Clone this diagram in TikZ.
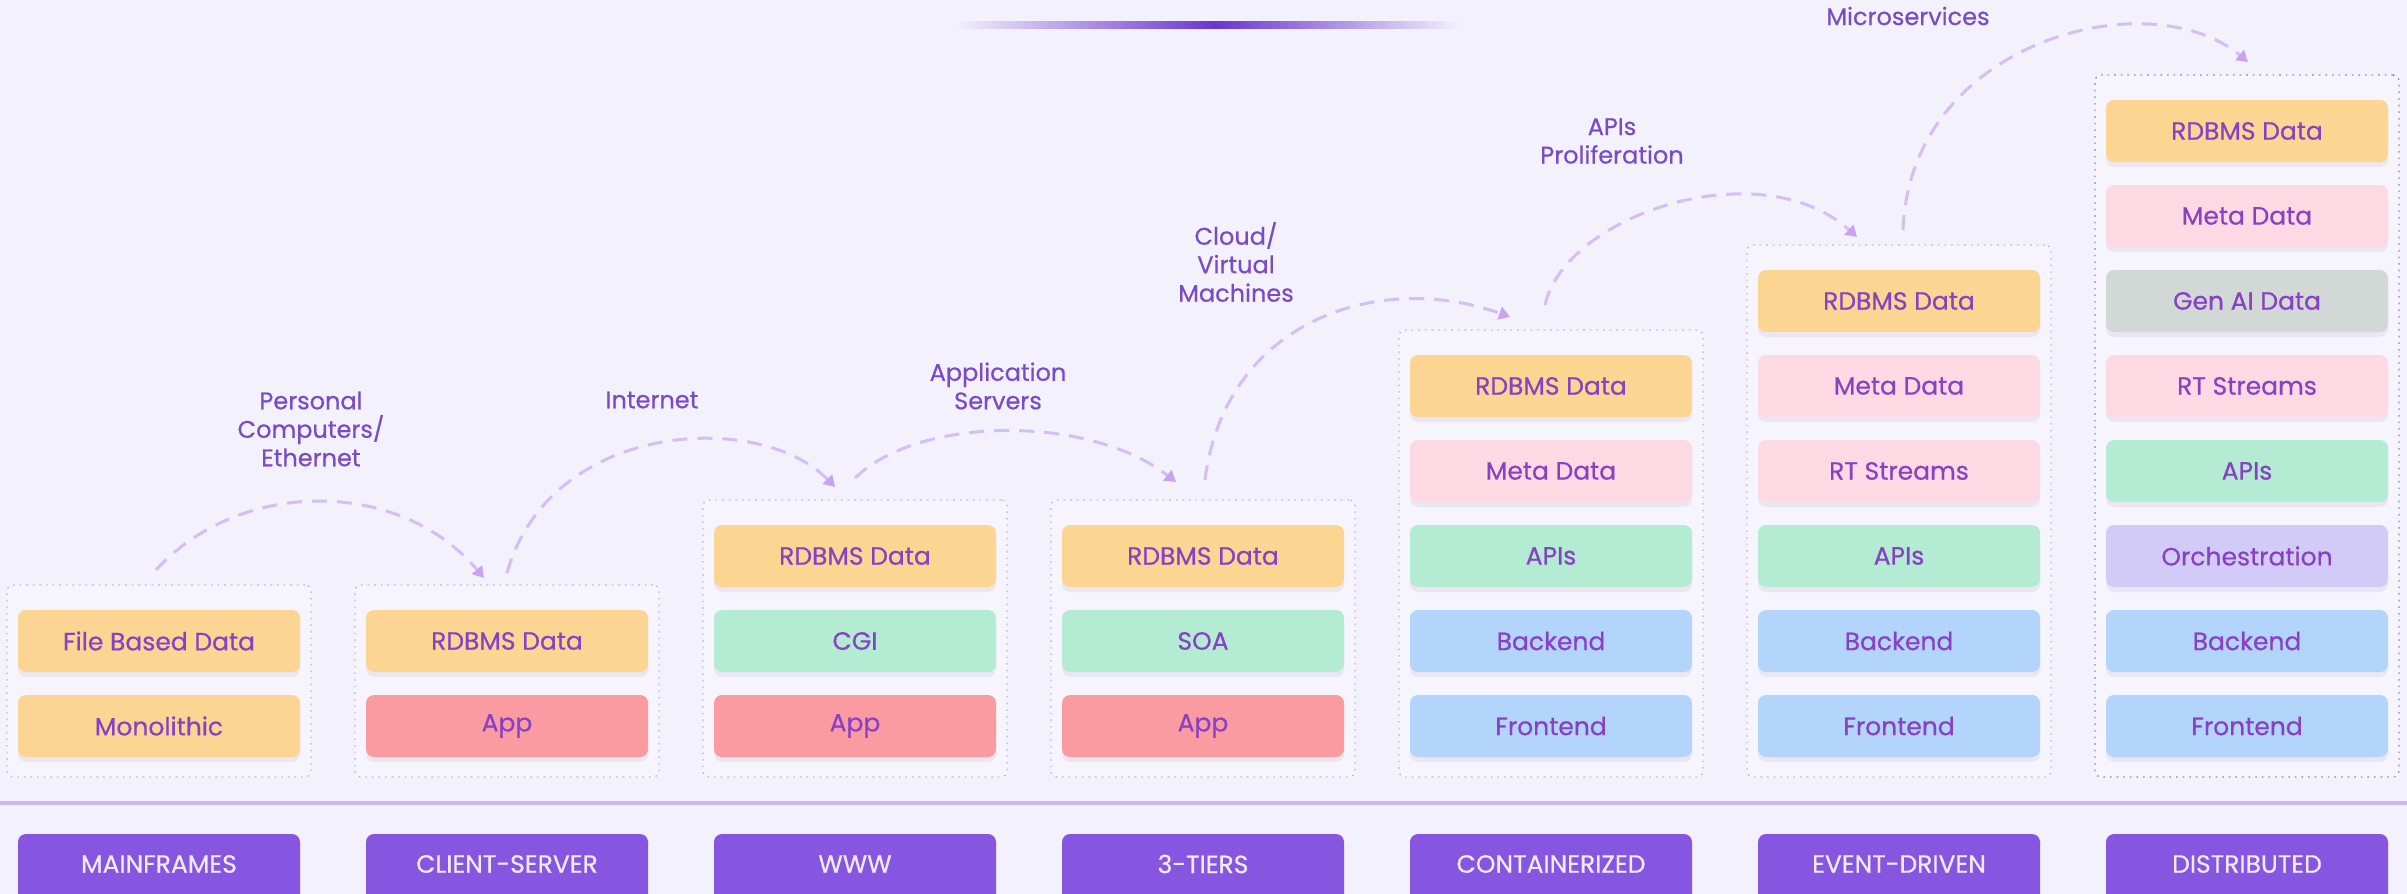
\documentclass[tikz,border=0pt]{standalone}
\usepackage{fontspec}
\setmainfont{Poppins}[FakeBold=0.5]
\usetikzlibrary{arrows.meta,shadows}
\definecolor{bg}{HTML}{F3F1FC}
\definecolor{contfill}{HTML}{F6F5FD}
\definecolor{contc}{HTML}{BDBBCB}
\definecolor{contd}{HTML}{8E8C9C}
\definecolor{txt}{HTML}{8840C4}
\definecolor{lbl}{HTML}{7A4BC8}
\definecolor{cor}{HTML}{FDD593}
\definecolor{cred}{HTML}{F99BA0}
\definecolor{cpk}{HTML}{FDD9E4}
\definecolor{cgr}{HTML}{B3EBD3}
\definecolor{cbl}{HTML}{B3D4FB}
\definecolor{cgy}{HTML}{D2D8D5}
\definecolor{clv}{HTML}{D3CBF7}
\definecolor{btn}{HTML}{8656E0}
\definecolor{btntxt}{HTML}{F1EAFF}
\definecolor{sepc}{HTML}{CDB5F7}
\definecolor{arrc}{HTML}{D7BDF5}
\definecolor{arrtip}{HTML}{C9A2F2}
\definecolor{grad}{HTML}{6A35CF}
\begin{document}
\begin{tikzpicture}[x=1pt,y=-1pt,
  blk/.style={rounded corners=8pt, minimum width=282pt, minimum height=62pt, inner sep=0pt,
    font=\fontsize{25}{29}\selectfont, text=txt,
    drop shadow={shadow xshift=0pt,shadow yshift=-5pt,opacity=0.06,fill=violet!60!black}},
  ora/.style={blk, fill=cor},
  red/.style={blk, fill=cred},
  pnk/.style={blk, fill=cpk},
  grn/.style={blk, fill=cgr},
  blu/.style={blk, fill=cbl},
  gry/.style={blk, fill=cgy},
  lav/.style={blk, fill=clv},
  cont/.style={draw=contc, dash pattern=on 1.6pt off 5pt, line width=1.3pt, rounded corners=6pt,
    fill=contfill, minimum width=304pt, inner sep=0pt},
  btnbox/.style={fill=btn, rounded corners=8pt, minimum width=282pt, minimum height=76pt, inner sep=0pt},
  btnlbl/.style={text=btntxt, font=\fontsize{25}{29}\selectfont, inner sep=0pt},
  lab/.style={text=lbl, align=center, font=\fontsize{24}{28.5}\selectfont, inner sep=0pt},
  arr/.style={draw=arrc, line width=3pt, dash pattern=on 15pt off 10pt,
    -{Triangle[width=13pt,length=11pt,fill=arrtip,color=arrtip]}}
]
\useasboundingbox (0,0) rectangle (2407,894);
\fill[bg] (0,0) rectangle (2407,894);
% top gradient line
\shade[left color=bg, right color=grad] (955,21) rectangle (1215,28);
\shade[left color=grad, right color=bg] (1215,21) rectangle (1460,28);
% separator
\fill[sepc] (0,801) rectangle (2407,805);

% containers
\node[cont, minimum height=192pt] (k0) at (159,681) {};
\node[cont, minimum height=192pt] (k1) at (507,681) {};
\node[cont, minimum height=277pt] (k2) at (855,638.5) {};
\node[cont, minimum height=277pt] (k3) at (1203,638.5) {};
\node[cont, minimum height=447pt] (k4) at (1551,553.5) {};
\node[cont, minimum height=532pt] (k5) at (1899,511) {};
\node[cont, draw=contd, minimum height=702pt] (k6) at (2247,426) {};

% column 0: mainframes
\node[ora] (c0r0) at (159,726) {Monolithic};
\node[ora] (c0r1) at (159,641) {File Based Data};
% column 1: client-server
\node[red] (c1r0) at (507,726) {App};
\node[ora] (c1r1) at (507,641) {RDBMS Data};
% column 2: www
\node[red] (c2r0) at (855,726) {App};
\node[grn] (c2r1) at (855,641) {CGI};
\node[ora] (c2r2) at (855,556) {RDBMS Data};
% column 3: 3-tiers
\node[red] (c3r0) at (1203,726) {App};
\node[grn] (c3r1) at (1203,641) {SOA};
\node[ora] (c3r2) at (1203,556) {RDBMS Data};
% column 4: containerized
\node[blu] (c4r0) at (1551,726) {Frontend};
\node[blu] (c4r1) at (1551,641) {Backend};
\node[grn] (c4r2) at (1551,556) {APIs};
\node[pnk] (c4r3) at (1551,471) {Meta Data};
\node[ora] (c4r4) at (1551,386) {RDBMS Data};
% column 5: event-driven
\node[blu] (c5r0) at (1899,726) {Frontend};
\node[blu] (c5r1) at (1899,641) {Backend};
\node[grn] (c5r2) at (1899,556) {APIs};
\node[pnk] (c5r3) at (1899,471) {RT Streams};
\node[pnk] (c5r4) at (1899,386) {Meta Data};
\node[ora] (c5r5) at (1899,301) {RDBMS Data};
% column 6: distributed
\node[blu] (c6r0) at (2247,726) {Frontend};
\node[blu] (c6r1) at (2247,641) {Backend};
\node[lav] (c6r2) at (2247,556) {Orchestration};
\node[grn] (c6r3) at (2247,471) {APIs};
\node[pnk] (c6r4) at (2247,386) {RT Streams};
\node[gry] (c6r5) at (2247,301) {Gen AI Data};
\node[pnk] (c6r6) at (2247,216) {Meta Data};
\node[ora] (c6r7) at (2247,131) {RDBMS Data};

% bottom buttons
\begin{scope}
\clip (0,0) rectangle (2407,894);
\node[btnbox] (b0) at (159,872) {};
\node[btnbox] (b1) at (507,872) {};
\node[btnbox] (b2) at (855,872) {};
\node[btnbox] (b3) at (1203,872) {};
\node[btnbox] (b4) at (1551,872) {};
\node[btnbox] (b5) at (1899,872) {};
\node[btnbox] (b6) at (2247,872) {};
\end{scope}
\node[btnlbl] (t0) at (159,864) {MAINFRAMES};
\node[btnlbl] (t1) at (507,864) {CLIENT-SERVER};
\node[btnlbl] (t2) at (855,864) {WWW};
\node[btnlbl] (t3) at (1203,864) {3-TIERS};
\node[btnlbl] (t4) at (1551,864) {CONTAINERIZED};
\node[btnlbl] (t5) at (1899,864) {EVENT-DRIVEN};
\node[btnlbl] (t6) at (2247,864) {DISTRIBUTED};

% arrow labels
\node[lab] (l1) at (311,429) {Personal\\Computers/\\Ethernet};
\node[lab] (l2) at (652,400) {Internet};
\node[lab] (l3) at (998,386) {Application\\Servers};
\node[lab] (l4) at (1236,262) {Cloud/\\Virtual\\Machines};
\node[lab] (l5) at (1612,141) {APIs\\Proliferation};
\node[lab] (l6) at (1908,16) {Microservices};

% arrow endpoints
\coordinate (a1s) at (156,570);
\coordinate (a1e) at (484,578);
\coordinate (a2s) at (507,573);
\coordinate (a2e) at (835,487);
\coordinate (a3s) at (855,478);
\coordinate (a3e) at (1176,482);
\coordinate (a4s) at (1205,480);
\coordinate (a4e) at (1510,317);
\coordinate (a5s) at (1545,305);
\coordinate (a5e) at (1857,237);
\coordinate (a6s) at (1903,230);
\coordinate (a6e) at (2248,62);

\draw[arr] (a1s) .. controls (240,478) and (400,478) .. (a1e);
\draw[arr] (a2s) .. controls (550,420) and (760,410) .. (a2e);
\draw[arr] (a3s) .. controls (920,415) and (1090,415) .. (a3e);
\draw[arr] (a4s) .. controls (1225,320) and (1380,270) .. (a4e);
\draw[arr] (a5s) .. controls (1565,215) and (1760,150) .. (a5e);
\draw[arr] (a6s) .. controls (1910,40) and (2150,-20) .. (a6e);
\end{tikzpicture}
\end{document}
